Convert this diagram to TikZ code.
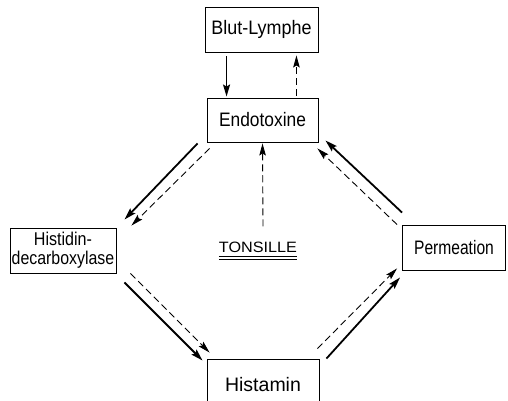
\documentclass[tikz,border=0pt]{standalone}
\usepackage{fontspec}
\setmainfont{Liberation Sans}
\usetikzlibrary{arrows.meta,calc}
\begin{document}
\begin{tikzpicture}[x=1pt,y=-1pt,
  box/.style={draw,line width=0.9pt,inner sep=0pt,anchor=center,align=center,font=\fontsize{19.5}{21}\selectfont},
  solidarrow/.style={line width=1.8pt,-{Stealth[length=12pt,width=7pt,inset=2pt]}},
  dasharrow/.style={line width=0.9pt,dash pattern=on 7pt off 4pt,-{Stealth[length=12pt,width=6.5pt,inset=2pt]}}]
\useasboundingbox (0,0) rectangle (508,401);
\clip (0,0) rectangle (508,401);
\node[box,minimum width=113pt,minimum height=45pt] (blut) at (261.5,29.5) {\scalebox{0.92}[1]{Blut-Lymphe}};
\node[box,minimum width=111pt,minimum height=44pt] (endo) at (262.5,120) {\scalebox{0.89}[1]{Endotoxine}};
\node[box,minimum width=106pt,minimum height=45pt,font=\fontsize{18.5}{19}\selectfont] (hist) at (63,250.5) {\scalebox{0.87}[1]{Histidin-}\\\scalebox{0.86}[1]{decarboxylase}};
\node[box,minimum width=103pt,minimum height=45pt] (perm) at (454,247.5) {\scalebox{0.8}[1]{Permeation}};
\node[box,minimum width=112pt,minimum height=56pt,text depth=0pt] (histamin) at (263,387) {\raisebox{5pt}{Histamin}};
\node[inner sep=0pt,font=\fontsize{15}{17}\selectfont] (tons) at (258,247) {\scalebox{1.08}[1]{TONSILLE}};
\draw[line width=0.8pt] ($(tons.base west)+(0,4.5)$) -- ($(tons.base east)+(0,4.5)$);
\draw[line width=0.8pt] ($(tons.base west)+(0,7)$) -- ($(tons.base east)+(0,7)$);
% vertical
\draw[solidarrow] ($(blut.south west)+(22,4)$) -- ($(endo.north west)+(20,-1)$);
\draw[dasharrow] ($(endo.north east)+(-22,-2)$) -- ($(blut.south east)+(-22,3)$);
\draw[dasharrow] ($(tons.north)+(5,-15)$) -- ($(endo.south)+(0,1)$);
% Endotoxine -> Histidin
\draw[solidarrow] ($(endo.south west)+(-9,1)$) -- ($(hist.north east)+(8,-8)$);
\draw[dasharrow] ($(endo.south west)+(3,6)$) -- ($(hist.north east)+(15,-2)$);
% Histidin -> Histamin
\draw[solidarrow] ($(hist.south east)+(8,9)$) -- ($(histamin.north west)+(-4,2)$);
\draw[dasharrow] ($(hist.south east)+(14,0)$) -- ($(histamin.north west)+(3,-6)$);
% Histamin -> Permeation
\draw[dasharrow] ($(histamin.north east)+(-2,-10)$) -- ($(perm.south west)+(-5,-2)$);
\draw[solidarrow] ($(histamin.north east)+(7,0)$) -- ($(perm.south west)+(-2,7)$);
% Permeation -> Endotoxine
\draw[solidarrow] ($(perm.north west)+(0,-12)$) -- ($(endo.south east)+(7,-2)$);
\draw[dasharrow] ($(perm.north west)+(-5,0)$) -- ($(endo.south east)+(-1,6)$);
\end{tikzpicture}
\end{document}
